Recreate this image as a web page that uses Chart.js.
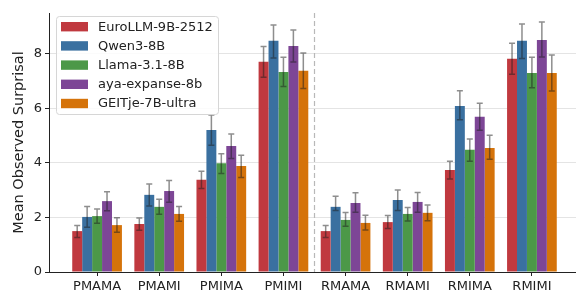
<!DOCTYPE html>
<html>
<head>
<meta charset="utf-8">
<script src="https://cdn.jsdelivr.net/npm/chart.js@4.4.1/dist/chart.umd.min.js"></script>
<style>
  html, body { margin: 0; padding: 0; background: #fff; overflow: hidden; }
  #wrap { width: 590px; height: 295px; }
</style>
</head>
<body>
<div id="wrap"><canvas id="chart" width="590" height="295"></canvas></div>
<script>
// categories and models
var conditions = ['PMAMA', 'PMAMI', 'PMIMA', 'PMIMI', 'RMAMA', 'RMAMI', 'RMIMA', 'RMIMI'];
var models = ['EuroLLM-9B-2512', 'Qwen3-8B', 'Llama-3.1-8B', 'aya-expanse-8b', 'GEITje-7B-ultra'];
var colors = ['#c0393f', '#3a70a0', '#4c9848', '#7d4696', '#d5730a'];
var yTicks = [0, 2, 4, 6, 8];
var splitAt = 3.5;

// mean surprisal per model
var euroMean  = [1.50, 1.76, 3.38, 7.71, 1.50, 1.83, 3.74, 7.82];
var qwenMean  = [2.02, 2.83, 5.21, 8.48, 2.39, 2.64, 6.09, 8.48];
var llamaMean = [2.05, 2.39, 3.99, 7.34, 1.91, 2.13, 4.48, 7.30];
var ayaMean   = [2.60, 2.97, 4.62, 8.29, 2.53, 2.57, 5.69, 8.51];
var geitjeMean = [1.72, 2.13, 3.89, 7.38, 1.80, 2.17, 4.55, 7.30];

// confidence interval bounds
var euroLow  = [1.27, 1.53, 3.06, 7.14, 1.27, 1.60, 3.41, 7.25];
var euroHigh = [1.71, 1.98, 3.70, 8.27, 1.71, 2.07, 4.06, 8.39];
var qwenLow  = [1.64, 2.42, 4.65, 7.85, 2.26, 2.26, 5.58, 7.83];
var qwenHigh = [2.40, 3.23, 5.76, 9.06, 2.78, 3.01, 6.65, 9.10];
var llamaLow  = [1.79, 2.12, 3.61, 6.80, 1.68, 1.87, 4.06, 6.76];
var llamaHigh = [2.31, 2.67, 4.34, 7.88, 2.18, 2.37, 4.88, 7.88];
var ayaLow  = [2.25, 2.56, 4.16, 7.70, 2.19, 2.19, 5.20, 7.89];
var ayaHigh = [2.94, 3.36, 5.06, 8.88, 2.91, 2.92, 6.19, 9.17];
var geitjeLow  = [1.46, 1.86, 3.47, 6.73, 1.54, 1.88, 4.14, 6.64];
var geitjeHigh = [1.99, 2.40, 4.28, 8.03, 2.08, 2.46, 5.02, 7.96];

var means = [euroMean, qwenMean, llamaMean, ayaMean, geitjeMean];
var lows  = [euroLow, qwenLow, llamaLow, ayaLow, geitjeLow];
var highs = [euroHigh, qwenHigh, llamaHigh, ayaHigh, geitjeHigh];

var FONT = 'DejaVu Sans';
var INK = '#222';

var datasets = models.map(function (name, k) {
    return {
        label: name,
        data: means[k].map(function (v, i) { return { x: i, y: v }; }),
        backgroundColor: colors[k],
        borderWidth: 0,
        categoryPercentage: 0.8,
        barPercentage: 1.0
    };
});

var extras = {
    id: 'extras',
    beforeDatasetsDraw: function (chart) {
        // dashed separator between PM and RM groups
        var ctx = chart.ctx, area = chart.chartArea;
        var px = chart.scales.x.getPixelForValue(splitAt);
        ctx.save();
        ctx.setLineDash([5, 3]);
        ctx.strokeStyle = '#b8b8b8';
        ctx.lineWidth = 1.2;
        ctx.beginPath();
        ctx.moveTo(px, area.top);
        ctx.lineTo(px, area.bottom);
        ctx.stroke();
        ctx.restore();
    },
    afterDatasetsDraw: function (chart) {
        var ctx = chart.ctx, ys = chart.scales.y;
        ctx.save();
        ctx.strokeStyle = 'rgba(30,30,30,0.5)';
        ctx.lineWidth = 1.5;
        for (var k = 0; k < models.length; k++) {
            var meta = chart.getDatasetMeta(k);
            for (var i = 0; i < meta.data.length; i++) {
                var x = meta.data[i].x;
                var y1 = ys.getPixelForValue(lows[k][i]);
                var y2 = ys.getPixelForValue(highs[k][i]);
                ctx.beginPath();
                ctx.moveTo(x, y1); ctx.lineTo(x, y2);
                ctx.moveTo(x - 3, y1); ctx.lineTo(x + 3, y1);
                ctx.moveTo(x - 3, y2); ctx.lineTo(x + 3, y2);
                ctx.stroke();
            }
        }
        ctx.restore();
    },
    afterDraw: function (chart) {
        // legend box in upper left of plot
        var ctx = chart.ctx, area = chart.chartArea;
        var bx = area.left + 7, by = 16, bw = 162, bh = 98;
        ctx.save();
        ctx.beginPath();
        if (ctx.roundRect) ctx.roundRect(bx + 0.5, by + 0.5, bw, bh, 3);
        else ctx.rect(bx + 0.5, by + 0.5, bw, bh);
        ctx.fillStyle = 'rgba(255,255,255,0.85)';
        ctx.fill();
        ctx.strokeStyle = '#d6d6d6';
        ctx.lineWidth = 1;
        ctx.stroke();
        ctx.font = '13px "' + FONT + '"';
        ctx.textBaseline = 'middle';
        for (var k = 0; k < models.length; k++) {
            var cy = by + 10.7 + k * 19.2;
            ctx.fillStyle = colors[k];
            ctx.fillRect(bx + 5, cy - 4.7, 27, 9.4);
            ctx.fillStyle = INK;
            ctx.fillText(models[k], bx + 42, cy + 0.5);
        }
        ctx.restore();
    }
};

new Chart(document.getElementById('chart'), {
    type: 'bar',
    data: { datasets: datasets },
    plugins: [extras],
    options: {
        responsive: false,
        animation: false,
        layout: { padding: { top: 13, right: 10, left: 0, bottom: 0 } },
        plugins: { legend: { display: false }, tooltip: { enabled: false } },
        scales: {
            x: {
                type: 'linear',
                min: -0.774,
                max: 7.774,
                offset: false,
                afterBuildTicks: function (s) {
                    s.ticks = conditions.map(function (c, i) { return { value: i }; });
                },
                afterFit: function (s) { s.height = 23; },
                ticks: {
                    callback: function (v) { return conditions[v]; },
                    font: { family: FONT, size: 13 },
                    color: INK,
                    padding: 3,
                    maxRotation: 0,
                    autoSkip: false
                },
                grid: { offset: false, drawOnChartArea: false, tickLength: 4, tickColor: INK, tickWidth: 1 },
                border: { color: INK, width: 1 }
            },
            y: {
                min: 0,
                max: 9.5,
                afterBuildTicks: function (s) {
                    s.ticks = yTicks.map(function (v) { return { value: v }; });
                },
                afterFit: function (s) { s.width = 49; },
                ticks: { font: { family: FONT, size: 13 }, color: INK, padding: 3 },
                grid: {
                    color: function (c) { return c.tick && c.tick.value === 0 ? 'rgba(0,0,0,0)' : '#e4e4e4'; },
                    tickColor: INK,
                    tickLength: 4,
                    lineWidth: 1
                },
                border: { color: INK, width: 1 },
                title: {
                    display: true,
                    text: 'Mean Observed Surprisal',
                    font: { family: FONT, size: 14.5 },
                    color: INK,
                    padding: { top: 11, bottom: 0 }
                }
            }
        }
    }
});
</script>
</body>
</html>
